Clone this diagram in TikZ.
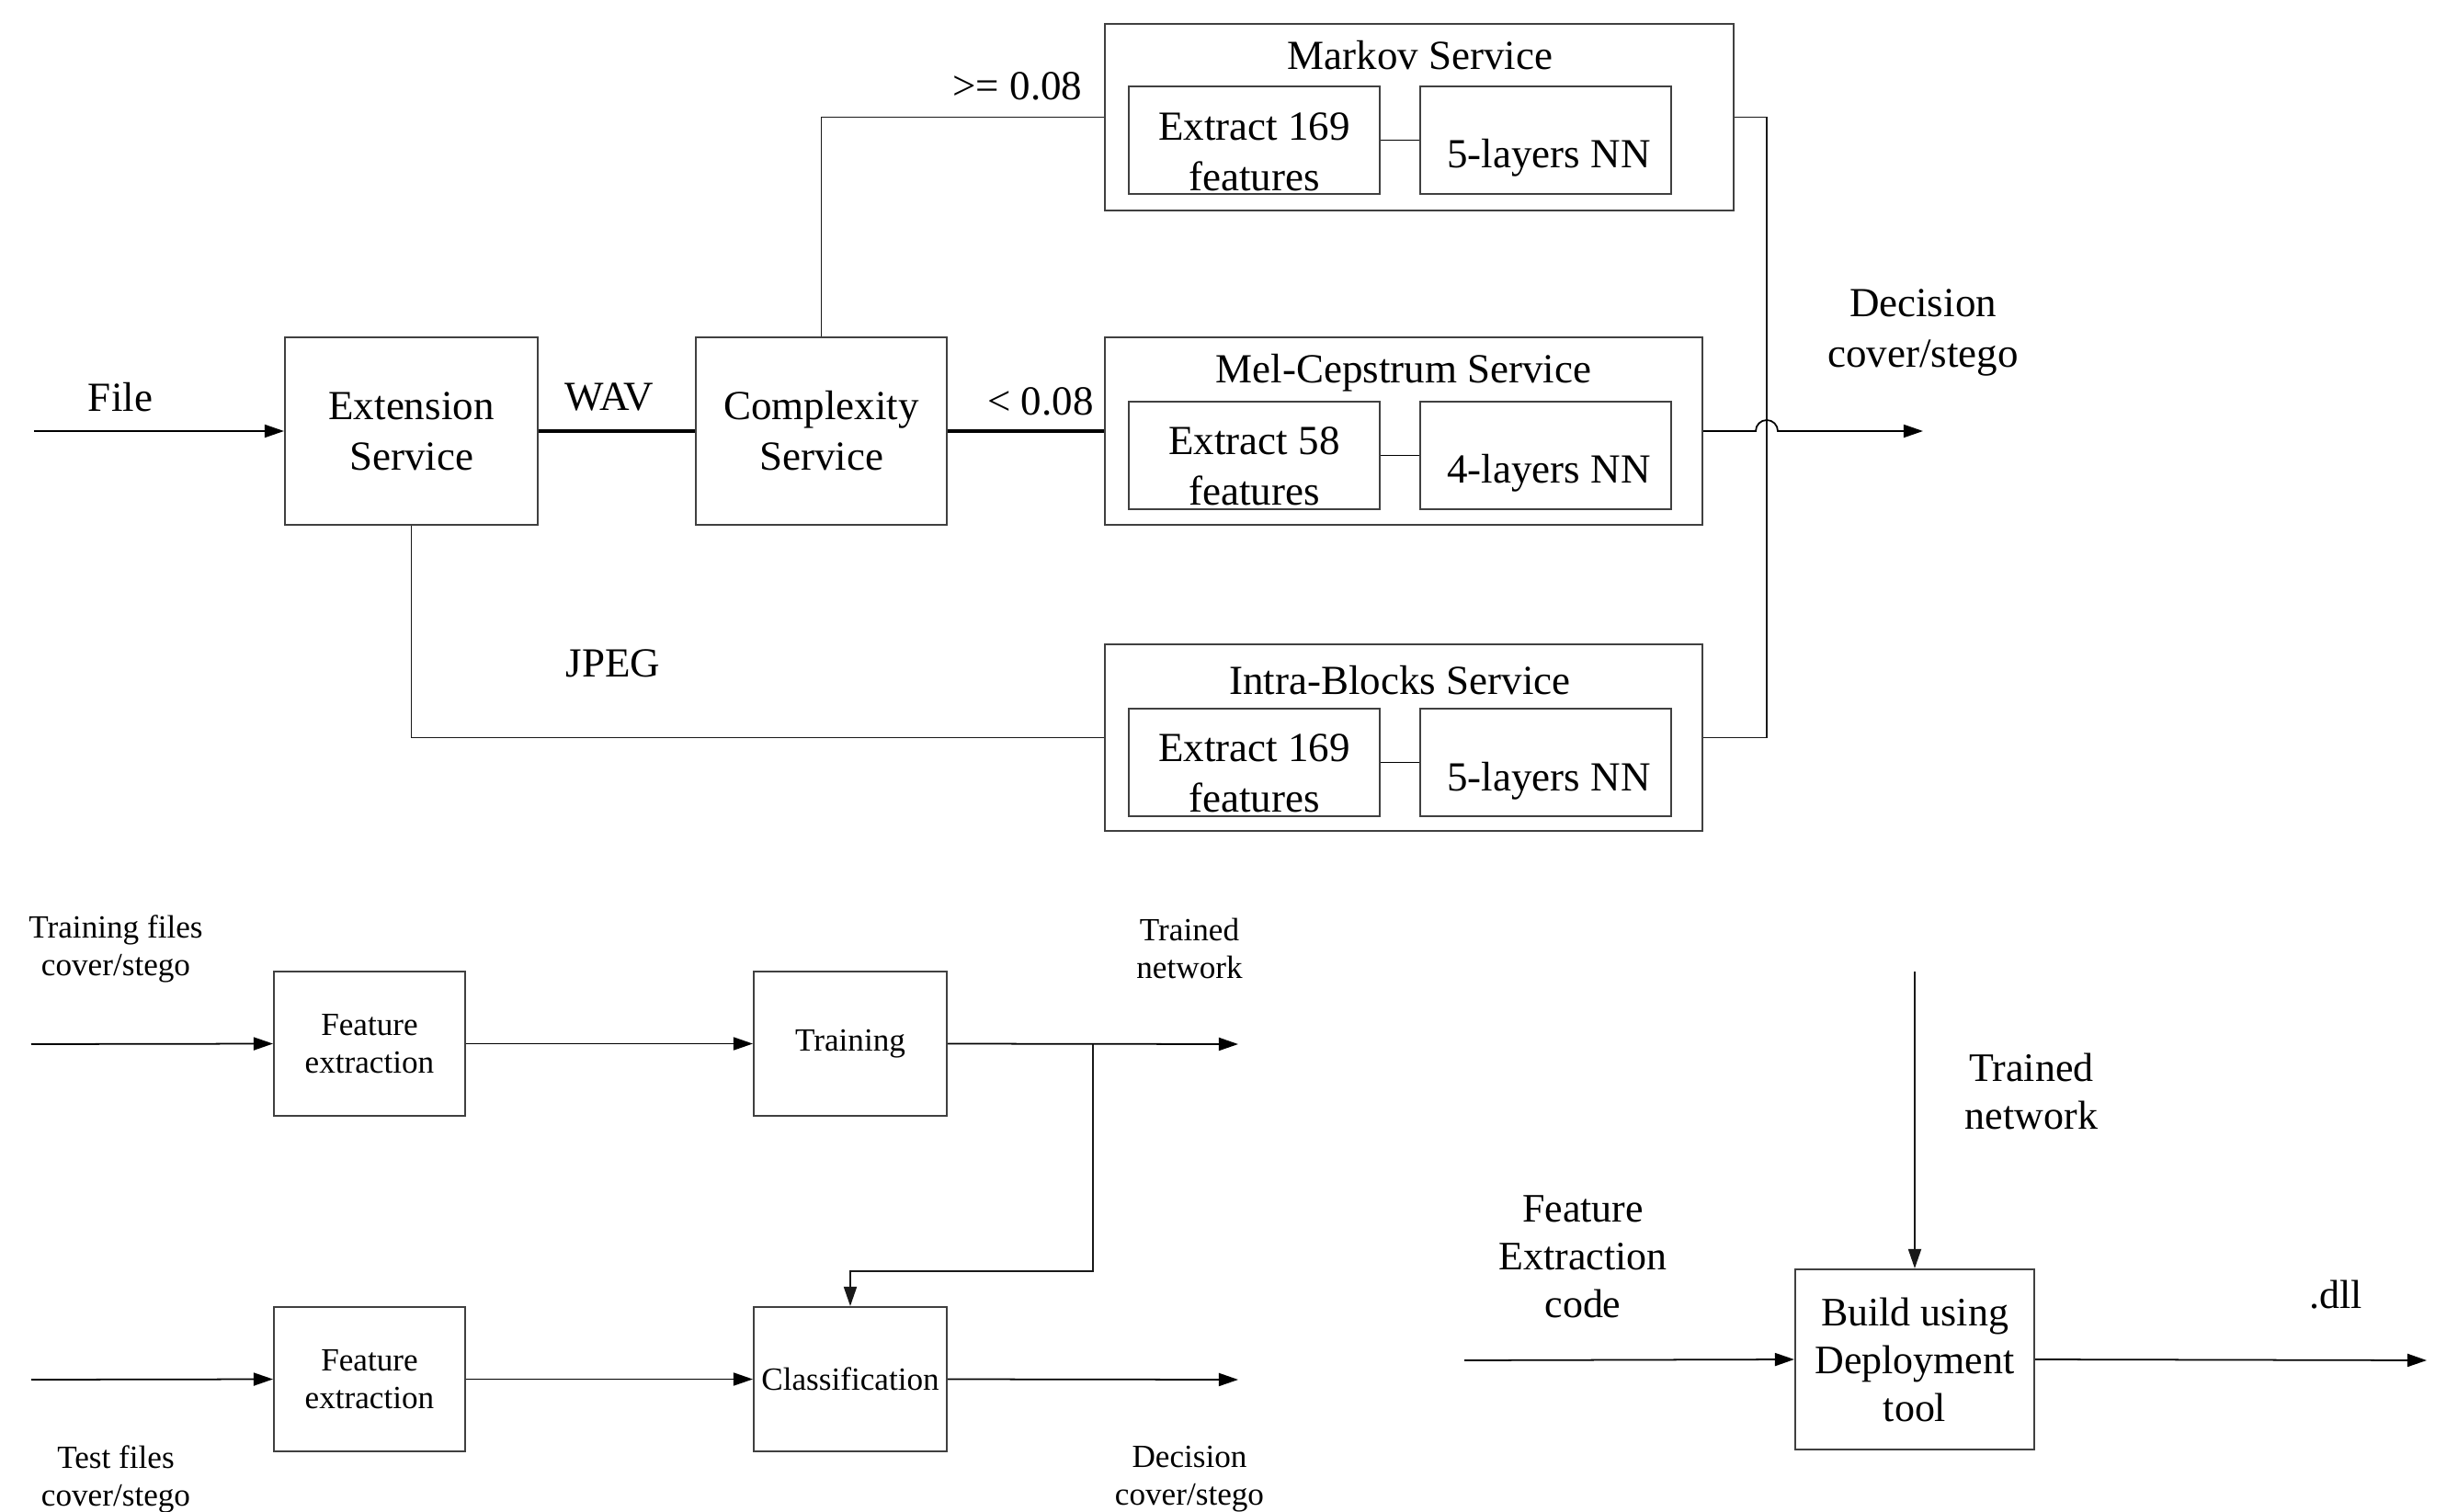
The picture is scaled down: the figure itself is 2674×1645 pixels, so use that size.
\documentclass[tikz,border=0pt]{standalone}
\usepackage{fontspec}
\setmainfont{Liberation Serif}
\usetikzlibrary{arrows.meta,calc}
\begin{document}
\begin{tikzpicture}[x=0.01cm,y=-0.01cm,
  line width=0.5pt,
  big/.style={font=\fontsize{12.8}{15.6}\selectfont, align=center, inner sep=0pt},
  small/.style={font=\fontsize{10}{11.7}\selectfont, align=center, inner sep=0pt},
  bx/.style={draw=black!75, line width=0.55pt, inner sep=0pt, align=center},
  conn/.style={draw=black!90, line width=0.5pt},
  arr/.style={-{Triangle[length=6pt,width=4pt]}},
  thickln/.style={line width=1.3pt}]
\path[use as bounding box, fill=white] (0,0) rectangle (2674,1645);

% ---------- top part ----------
\node[bx, big, minimum width=2.75cm, minimum height=2.04cm] (ext) at (447.5,469) {Extension\\Service};
\node[bx, big, minimum width=2.73cm, minimum height=2.04cm] (cpx) at (893.5,469) {Complexity\\Service};

\node[bx, minimum width=6.84cm, minimum height=2.03cm] (markov) at (1544,127.5) {};
\node[big] (markovt) at (1545,60) {Markov Service};
\node[bx, minimum width=2.73cm, minimum height=1.17cm] (mk1) at (1364.5,152.5) {};
\node[big] (mk1t) at (1364.5,165) {Extract 169\\features};
\node[bx, minimum width=2.73cm, minimum height=1.17cm] (mk2) at (1681.5,152.5) {};
\node[big] (mk2t) at (1685,172) {5-layers NN};

\node[bx, minimum width=6.5cm, minimum height=2.04cm] (mel) at (1527,469) {};
\node[big] (melt) at (1527,406) {Mel-Cepstrum Service};
\node[bx, minimum width=2.73cm, minimum height=1.17cm] (ml1) at (1364.5,495.5) {};
\node[big] (ml1t) at (1364.5,507) {Extract 58\\features};
\node[bx, minimum width=2.73cm, minimum height=1.17cm] (ml2) at (1681.5,495.5) {};
\node[big] (ml2t) at (1685,515) {4-layers NN};

\node[bx, minimum width=6.5cm, minimum height=2.03cm] (intra) at (1527,802.5) {};
\node[big] (intrat) at (1523,740) {Intra-Blocks Service};
\node[bx, minimum width=2.73cm, minimum height=1.17cm] (in1) at (1364.5,829.5) {};
\node[big] (in1t) at (1364.5,841) {Extract 169\\features};
\node[bx, minimum width=2.73cm, minimum height=1.17cm] (in2) at (1681.5,829.5) {};
\node[big] (in2t) at (1685,850) {5-layers NN};

\node[big] (filel) at (131,432) {File};
\node[big] (wavl) at (663,432) {WAV};
\node[big] (ltl) at (1132,437) {< 0.08};
\node[big] (gel) at (1107,94) {>= 0.08};
\node[big] (jpegl) at (667,722) {JPEG};
\node[big] (decl) at (2092,362) {Decision\\cover/stego};

\coordinate (filein) at (37,469);
\coordinate (jn) at (1922,802.5);
\coordinate (decout) at (2092,469);

\draw[arr] (filein) -- (ext.west);
\draw[thickln] (ext.east) -- (cpx.west);
\draw[thickln] (cpx.east) -- (mel.west);
\draw[conn] (cpx.north) |- (markov.west);
\draw[conn] (ext.south) |- (intra.west);
\draw (mk1.east) -- (mk2.west);
\draw (ml1.east) -- (ml2.west);
\draw (in1.east) -- (in2.west);
\draw[conn] (markov.east) -| (jn) -- (intra.east);
\draw[arr] (mel.east) -- ($(mel.east -| jn)+(-12,0)$) arc[start angle=180,end angle=0,radius=0.12cm] -- (decout);

% ---------- bottom left ----------
\node[bx, small, minimum width=2.08cm, minimum height=1.57cm] (fe1) at (402,1135.5) {Feature\\extraction};
\node[bx, small, minimum width=2.10cm, minimum height=1.57cm] (train) at (925,1135.5) {Training};
\node[bx, small, minimum width=2.08cm, minimum height=1.57cm] (fe2) at (402,1500.5) {Feature\\extraction};
\node[bx, small, minimum width=2.10cm, minimum height=1.57cm] (cls) at (925,1500.5) {Classification};

\node[small] (trfl) at (126,1032) {Training files\\cover/stego};
\node[small] (tnl) at (1294,1032) {Trained\\network};
\node[small] (tefl) at (126,1609) {Test files\\cover/stego};
\node[small] (dcl) at (1294,1609) {Decision\\cover/stego};

\coordinate (trin) at (34,1136);
\coordinate (trout) at (1347,1136);
\coordinate (br) at (1189,1136);
\coordinate (tein) at (34,1501);
\coordinate (clsout) at (1347,1501);

\draw[arr] (trin) -- (fe1.west);
\draw[arr] (fe1.east) -- (train.west);
\draw[arr] (train.east) -- (trout);
\draw[arr, conn] (br) -- ++(0,247) -| (cls.north);
\draw[arr] (tein) -- (fe2.west);
\draw[arr] (fe2.east) -- (cls.west);
\draw[arr] (cls.east) -- (clsout);

% ---------- bottom right ----------
\node[bx, font=\fontsize{12.5}{14.8}\selectfont, minimum width=2.60cm, minimum height=1.96cm] (build) at (2083,1479) {Build using\\Deployment\\tool};
\node[font=\fontsize{12.5}{14.8}\selectfont, align=center, inner sep=0pt] (tn2l) at (2210,1187) {Trained\\network};
\node[font=\fontsize{12.5}{14.8}\selectfont, align=center, inner sep=0pt] (fecl) at (1722,1367) {Feature\\Extraction\\code};
\node[font=\fontsize{12.5}{14.8}\selectfont, inner sep=0pt] (dlll) at (2541,1409) {.dll};

\coordinate (tnin) at (2083,1057);
\coordinate (fein) at (1593,1480);
\coordinate (dllout) at (2640,1480);

\draw[arr, conn] (tnin) -- (build.north);
\draw[arr] (fein) -- (build.west);
\draw[arr] (build.east) -- (dllout);
\end{tikzpicture}
\end{document}
